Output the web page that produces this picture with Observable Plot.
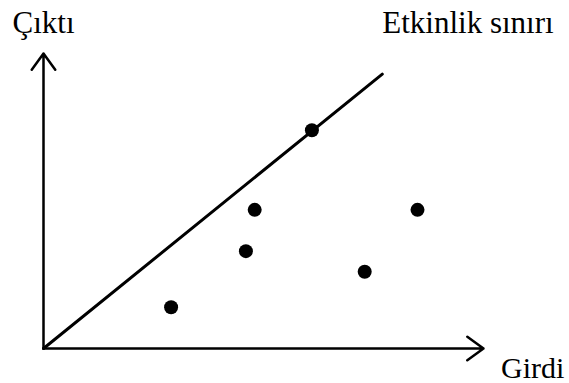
<!DOCTYPE html>
<html>
<head>
<meta charset="utf-8">
<script src="https://cdn.jsdelivr.net/npm/d3@7"></script>
<script src="https://cdn.jsdelivr.net/npm/@observablehq/plot@0.6"></script>
<style>
  html, body { margin: 0; padding: 0; background: #fff; }
  svg text { font-family: "Liberation Serif", "Times New Roman", serif; }
</style>
</head>
<body>
<div id="chart"></div>
<script>
// Decision units: input (girdi) vs output (çıktı)
const unitInput  = [29, 46, 48, 61, 73, 85];
const unitOutput = [14, 33, 47, 74, 26, 47];

// Efficiency frontier through the origin
const frontierInput  = [0, 77];
const frontierOutput = [0, 93];

// Axis extents
const axisMax = 100;

// Text labels
const labelY = "Çıktı";
const labelX = "Girdi";
const labelFrontier = "Etkinlik sınırı";

const units = unitInput.map((x, i) => ({x, y: unitOutput[i]}));
const frontier = frontierInput.map((x, i) => ({x, y: frontierOutput[i]}));
const axes = [
  {x1: 0, y1: 0, x2: axisMax, y2: 0},
  {x1: 0, y1: 0, x2: 0, y2: axisMax}
];

const font = "Liberation Serif";

const chart = Plot.plot({
  width: 569,
  height: 383,
  marginLeft: 43,
  marginRight: 86,
  marginTop: 53,
  marginBottom: 35,
  x: {domain: [0, axisMax], axis: null},
  y: {domain: [0, axisMax], axis: null},
  style: {background: "#fff", overflow: "visible"},
  marks: [
    Plot.arrow(axes, {
      x1: "x1", y1: "y1", x2: "x2", y2: "y2",
      stroke: "#000", strokeWidth: 2.5,
      headLength: 12, headAngle: 72
    }),
    Plot.line(frontier, {x: "x", y: "y", stroke: "#000", strokeWidth: 3}),
    Plot.dot(units, {x: "x", y: "y", r: 7, fill: "#000", stroke: null}),
    Plot.text([labelY], {
      x: 0, y: 107, text: d => d, textAnchor: "middle", lineAnchor: "bottom",
      fontFamily: font, fontSize: 31, fill: "#000"
    }),
    Plot.text([labelFrontier], {
      x: 77, y: 107, text: d => d, textAnchor: "start", lineAnchor: "bottom",
      fontFamily: font, fontSize: 31, fill: "#000"
    }),
    Plot.text([labelX], {
      x: 104, y: -10, text: d => d, textAnchor: "start", lineAnchor: "bottom",
      fontFamily: font, fontSize: 30, fill: "#000"
    })
  ]
});

document.getElementById("chart").appendChild(chart);
</script>
</body>
</html>
